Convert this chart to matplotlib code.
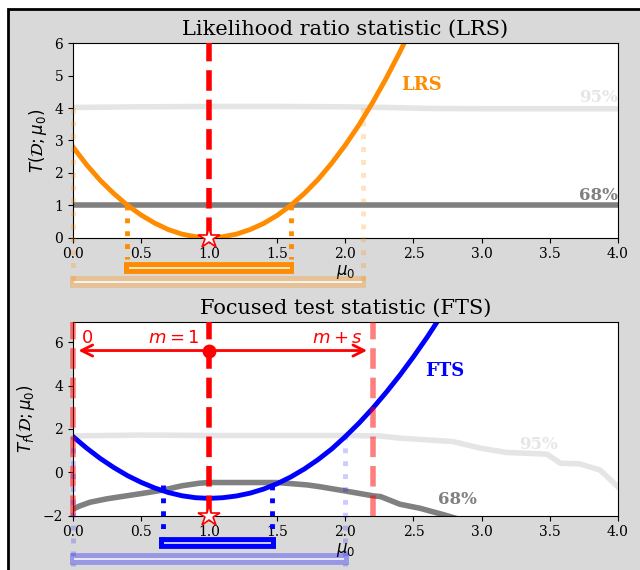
import matplotlib
matplotlib.use("Agg")
import matplotlib.pyplot as plt
from matplotlib.patches import Rectangle

plt.rcParams['font.family'] = ['DejaVu Serif']
plt.rcParams['mathtext.fontset'] = 'dejavusans'

# --- data ---
mu_lrs = [0.0, 0.1, 0.2, 0.3, 0.4, 0.5, 0.6, 0.7, 0.8, 0.9, 1.0, 1.1, 1.2,
          1.3, 1.4, 1.5, 1.6, 1.7, 1.8, 1.9, 2.0, 2.1, 2.2, 2.3, 2.4, 2.5]
lrs = [2.80, 2.25, 1.77, 1.36, 1.00, 0.70, 0.45, 0.25, 0.11, 0.03, 0.00, 0.03, 0.11,
       0.25, 0.44, 0.69, 1.00, 1.37, 1.80, 2.30, 2.86, 3.48, 4.17, 4.92, 5.73, 6.60]
mu_lrs95 = [0.0, 0.5, 1.0, 1.5, 2.0, 2.3, 2.6, 3.0, 3.5, 4.0]
lrs95 = [4.02, 4.04, 4.05, 4.05, 4.04, 4.02, 3.99, 3.98, 3.98, 3.98]
mu_lrs68 = [0.0, 4.0]
lrs68 = [1.01, 1.01]

mu_fts = [0.0, 0.1, 0.2, 0.3, 0.4, 0.5, 0.6, 0.7, 0.8, 0.9, 1.0, 1.1, 1.2, 1.3,
          1.4, 1.5, 1.6, 1.7, 1.8, 1.9, 2.0, 2.1, 2.2, 2.3, 2.4, 2.5, 2.6, 2.7]
fts = [1.65, 1.12, 0.64, 0.22, -0.15, -0.46, -0.72, -0.93, -1.08, -1.17, -1.20, -1.17,
       -1.09, -0.96, -0.77, -0.52, -0.21, 0.16, 0.59, 1.08, 1.65, 2.27, 2.95, 3.69,
       4.48, 5.33, 6.23, 7.19]
mu_fts95 = [0.0, 0.5, 1.0, 1.5, 2.0, 2.25, 2.40, 2.79, 2.99, 3.18, 3.48, 3.58, 3.72, 3.87, 4.0]
fts95 = [1.68, 1.72, 1.70, 1.70, 1.70, 1.68, 1.58, 1.42, 1.12, 0.92, 0.84, 0.42, 0.39, 0.11, -0.66]
mu_fts68 = [0.0, 0.05, 0.125, 0.25, 0.5, 0.66, 0.8, 0.93, 1.0, 1.5, 1.72, 1.81, 2.0,
            2.2, 2.26, 2.4, 2.55, 2.73, 2.8]
fts68 = [-1.70, -1.55, -1.38, -1.22, -0.98, -0.82, -0.62, -0.50, -0.47, -0.47, -0.58,
         -0.66, -0.86, -1.08, -1.12, -1.47, -1.66, -1.97, -2.10]

mu_hat = 1.0
lrs_ci68 = [0.4, 1.6]
lrs_ci95 = [0.0, 2.13]
fts_ci68 = [0.66, 1.465]
fts_ci95 = [0.0, 2.0]
m, m_plus_s = 1.0, 2.2

ORANGE = 'darkorange'
BLUE = 'blue'


def interval_bar(ax, lo, hi, y, color, alpha=1.0):
    # thick bar with a thin white stroke inside, drawn below the axis
    ax.plot([lo - 0.025, hi + 0.025], [y, y], color=color, alpha=alpha, lw=8.5,
            solid_capstyle='butt', clip_on=False, zorder=5)
    ax.plot([lo + 0.01, hi - 0.01], [y, y], color='white', alpha=0.8, lw=1.4,
            solid_capstyle='butt', clip_on=False, zorder=6)


def interval_drops(ax, xs, ytop, ybot, color, alpha=1.0):
    for x in xs:
        ax.plot([x, x], [ytop, ybot], ls=':', color=color, alpha=alpha, lw=3.5,
                clip_on=False, zorder=4)


def style_axis(ax, ylim, yticks, ylabel, title):
    ax.set_xlim(0, 4)
    ax.set_ylim(*ylim)
    ax.set_xticks([0, 0.5, 1, 1.5, 2, 2.5, 3, 3.5, 4])
    ax.set_xticklabels(['0.0', '0.5', '1.0', '1.5', '2.0', '2.5', '3.0', '3.5', '4.0'])
    ax.set_yticks(yticks)
    ax.tick_params(labelsize=10)
    ax.set_xlabel(r'$\mu_0$', fontsize=12, labelpad=1)
    ax.set_ylabel(ylabel, fontsize=12)
    ax.set_title(title, fontsize=15)


fig = plt.figure(figsize=(6.4, 5.7), dpi=100, facecolor='white')
fig.patches.append(Rectangle((8 / 640, -0.1), 2, 1.1 - 9 / 570, transform=fig.transFigure,
                             facecolor='#d9d9d9', edgecolor='black', lw=2, zorder=-10))

ax1 = fig.add_axes([73 / 640, 1 - 237.7 / 570, 544.7 / 640, 194.4 / 570])
ax2 = fig.add_axes([73 / 640, 1 - 515.7 / 570, 544.7 / 640, 194 / 570])

#%% top panel: LRS
ax1.plot(mu_lrs95, lrs95, color='gray', alpha=0.2, lw=4)
ax1.plot(mu_lrs68, lrs68, color='gray', lw=4)
ax1.plot(mu_lrs, lrs, color=ORANGE, lw=3.5)
ax1.axvline(mu_hat, color='red', ls='--', lw=4, zorder=7)
ax1.plot([mu_hat], [0], marker='*', ms=16, mfc='white', mec='red', mew=1.2,
         clip_on=False, zorder=8)
ax1.text(4.0, 4.08, '95%', color='gray', alpha=0.2, fontsize=12, fontweight='bold',
         ha='right', va='bottom')
ax1.text(4.0, 1.05, '68%', color='gray', fontsize=12, fontweight='bold',
         ha='right', va='bottom')
ax1.text(2.56, 4.7, 'LRS', color=ORANGE, fontsize=13, fontweight='bold',
         ha='center', va='center')

interval_drops(ax1, lrs_ci68, 1.0, -0.65, ORANGE)
interval_bar(ax1, lrs_ci68[0], lrs_ci68[1], -0.93, ORANGE)
interval_drops(ax1, lrs_ci95, 4.0, -1.5, ORANGE, alpha=0.25)
interval_bar(ax1, lrs_ci95[0], lrs_ci95[1], -1.36, ORANGE, alpha=0.3)
style_axis(ax1, (0, 6), [0, 1, 2, 3, 4, 5, 6], r'$T(\mathcal{D};\mu_0)$',
           'Likelihood ratio statistic (LRS)')

#%% bottom panel: FTS
ax2.plot(mu_fts95, fts95, color='gray', alpha=0.2, lw=4)
ax2.plot(mu_fts68, fts68, color='gray', lw=4)
ax2.plot(mu_fts, fts, color=BLUE, lw=3.5)
ax2.axvline(0, color='red', alpha=0.5, ls='--', lw=4, clip_on=False, zorder=3)
ax2.axvline(m_plus_s, color='red', alpha=0.5, ls='--', lw=4, zorder=3)
ax2.axvline(m, color='red', ls='--', lw=4, zorder=7)
ax2.plot([m], [5.62], 'o', color='red', ms=9, zorder=8)
for x_end in [0.04, 2.16]:
    ax2.annotate('', xy=(x_end, 5.62), xytext=(m, 5.62),
                 arrowprops=dict(arrowstyle='->', color='red', lw=2,
                                 shrinkA=0, shrinkB=0, mutation_scale=20), zorder=8)
ax2.text(0.06, 6.2, r'$0$', color='red', fontsize=13, ha='left', va='center')
ax2.text(0.93, 6.2, r'$m=1$', color='red', fontsize=13, ha='right', va='center')
ax2.text(2.13, 6.2, r'$m+s$', color='red', fontsize=13, ha='right', va='center')
ax2.plot([mu_hat], [-2], marker='*', ms=16, mfc='white', mec='red', mew=1.2,
         clip_on=False, zorder=8)
ax2.text(3.42, 1.27, '95%', color='gray', alpha=0.2, fontsize=12, fontweight='bold',
         ha='center', va='center')
ax2.text(2.82, -1.23, '68%', color='gray', fontsize=12, fontweight='bold',
         ha='center', va='center')
ax2.text(2.73, 4.69, 'FTS', color=BLUE, fontsize=13, fontweight='bold',
         ha='center', va='center')

interval_drops(ax2, fts_ci68, -0.6, -2.97, BLUE)
interval_bar(ax2, fts_ci68[0], fts_ci68[1], -3.28, BLUE)
interval_drops(ax2, fts_ci95, 1.7, -4.3, BLUE, alpha=0.2)
interval_bar(ax2, fts_ci95[0], fts_ci95[1], -4.0, BLUE, alpha=0.3)
style_axis(ax2, (-2, 6.95), [-2, 0, 2, 4, 6], r'$T_f(\mathcal{D};\mu_0)$',
           'Focused test statistic (FTS)')

fig.savefig('out.png', dpi=100, facecolor=fig.get_facecolor())
